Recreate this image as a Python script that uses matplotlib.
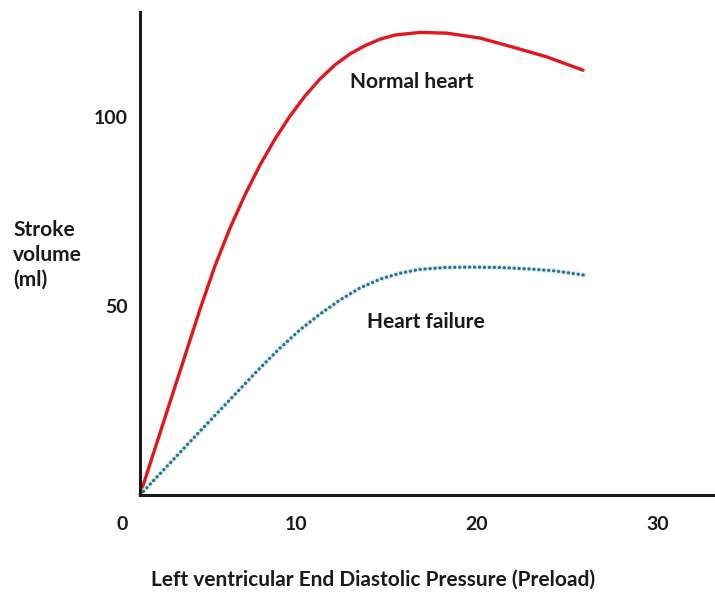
import matplotlib
matplotlib.use("Agg")
import matplotlib.pyplot as plt

# preload (x) vs stroke volume (y)
normal_x = [1.38, 3.04, 4.70, 5.52, 6.35, 7.18, 8.01, 8.84, 9.67, 10.50, 11.33, 12.15,
            12.98, 13.81, 14.64, 15.47, 16.85, 18.34, 20.17, 21.99, 23.87, 25.86]
normal_y = [0.0, 24.6, 49.2, 60.6, 70.6, 79.4, 87.3, 94.2, 100.3, 105.6, 110.1, 113.8,
            116.7, 118.9, 120.6, 121.7, 122.4, 122.2, 120.9, 118.5, 115.9, 112.4]

failure_x = [1.38, 4.70, 8.01, 9.12, 10.22, 11.33, 12.43, 13.54, 14.64, 15.75, 16.85,
             18.23, 19.61, 21.27, 22.93, 24.31, 25.91]
failure_y = [0.0, 16.9, 33.6, 38.9, 43.7, 47.9, 51.6, 54.8, 57.1, 58.7, 59.7,
             60.2, 60.3, 60.2, 59.8, 59.3, 58.2]

x_tick_pos = [0.4, 10, 20, 30]
x_tick_labels = ["0", "10", "20", "30"]
y_tick_pos = [50, 100]
y_tick_labels = ["50", "100"]

FONT = ["Lato", "DejaVu Sans"]
plt.rcParams["font.family"] = FONT
INK = "#1a1a1a"

W, H = 715, 593
fig = plt.figure(figsize=(W / 100, H / 100), dpi=100)
# axes box in pixels: left 100, right 715, top 12, bottom 495
ax = fig.add_axes([100 / W, 1 - 495 / H, 615 / W, 483 / H])

x_origin = 1.38
ax.set_xlim(-0.83, 33.15)
ax.set_ylim(0, 127.8)

ax.plot(normal_x, normal_y, color="#e3161c", lw=2.4, solid_capstyle="round",
        solid_joinstyle="round")
# light halo under the dotted curve, like the source image
ax.plot(failure_x, failure_y, color="#d6eef5", lw=3.8, alpha=0.8,
        solid_joinstyle="round")
ax.plot(failure_x, failure_y, color="#2e6f88", lw=2.3,
        linestyle=(0, (0.1, 1.45)), dash_capstyle="round")

for side in ["top", "right"]:
    ax.spines[side].set_visible(False)
ax.spines["left"].set_position(("data", x_origin))
ax.spines["left"].set_bounds(0, 127.8)
ax.spines["bottom"].set_bounds(x_origin, 33.15)
for side in ["left", "bottom"]:
    ax.spines[side].set_linewidth(2.2)
    ax.spines[side].set_color(INK)

ax.set_xticks(x_tick_pos, x_tick_labels)
ax.set_yticks(y_tick_pos, y_tick_labels)
ax.tick_params(axis="x", length=0, pad=15, labelsize=14)
ax.tick_params(axis="y", length=0, pad=9, labelsize=14)
for lab in ax.get_xticklabels() + ax.get_yticklabels():
    lab.set_fontweight("bold")
    lab.set_color(INK)

ax.text(12.98, 109.3, "Normal heart", fontsize=15, fontweight="bold",
        color=INK, ha="left", va="center")
ax.text(13.9, 45.8, "Heart failure", fontsize=15, fontweight="bold",
        color=INK, ha="left", va="center")

fig.text(13 / W, 1 - 255 / H, "Stroke\nvolume\n(ml)", fontsize=15,
         fontweight="bold", color=INK, ha="left", va="center",
         linespacing=1.3)
fig.text(373 / W, 1 - 580 / H, "Left ventricular End Diastolic Pressure (Preload)",
         fontsize=15, fontweight="bold", color=INK, ha="center", va="center")

fig.savefig("out.png", dpi=100)
